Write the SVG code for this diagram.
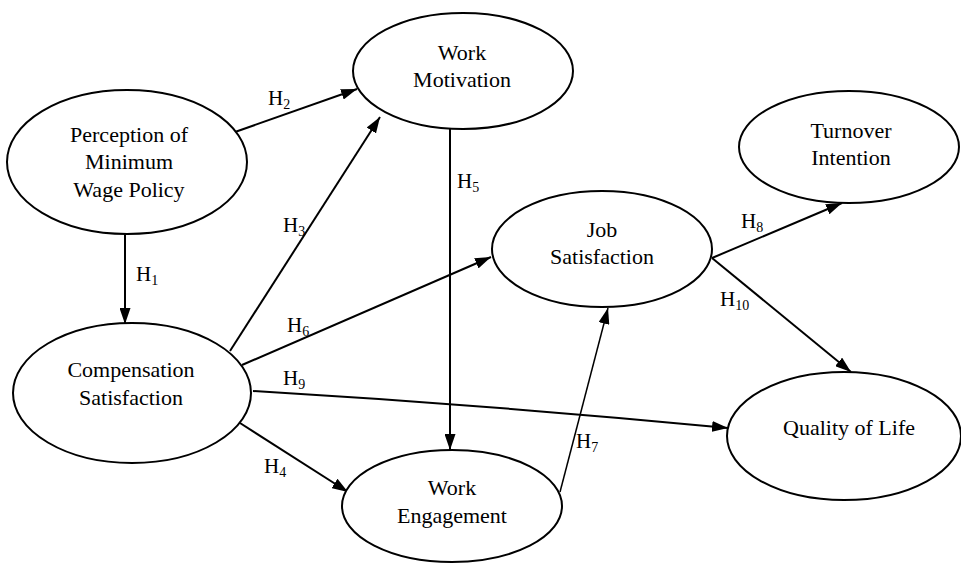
<svg xmlns="http://www.w3.org/2000/svg" width="961" height="564" viewBox="0 0 961 564">
<defs>
<marker id="ah" markerUnits="userSpaceOnUse" markerWidth="16" markerHeight="11" refX="16" refY="5.5" orient="auto">
<path d="M0,0 L16,5.5 L0,11 z" fill="#000"/>
</marker>
<style>
.n ellipse{fill:#fff;stroke:#000;stroke-width:2}
.n text{font-family:"Liberation Serif","Times New Roman",serif;font-size:22px;fill:#000;text-anchor:middle}
.c line,.c path{stroke:#000;stroke-width:2;fill:none;marker-end:url(#ah)}
.lb{font-family:"Liberation Serif","Times New Roman",serif;font-size:21px;fill:#000}
.lb tspan{font-size:14px}
</style>
</defs>
<rect width="961" height="564" fill="#fff"/>
<g class="c" id="connectors">
<line x1="125" y1="233" x2="125" y2="324"/>
<line x1="235" y1="132" x2="357" y2="89"/>
<line x1="230" y1="351" x2="380" y2="117"/>
<line x1="240" y1="423" x2="348" y2="492"/>
<line x1="450" y1="129" x2="450" y2="450"/>
<line x1="242" y1="365" x2="491" y2="257"/>
<line x1="560" y1="492" x2="608" y2="308" style="stroke-width:1.5"/>
<line x1="712" y1="258" x2="842" y2="203"/>
<path d="M253,391 Q490,405 728,428"/>
<line x1="712" y1="258" x2="851" y2="372"/>
</g>
<g id="labels">
<text class="lb" x="136" y="281">H<tspan dy="4">1</tspan></text>
<text class="lb" x="268" y="105">H<tspan dy="4">2</tspan></text>
<text class="lb" x="283" y="232">H<tspan dy="4">3</tspan></text>
<text class="lb" x="264" y="473">H<tspan dy="4">4</tspan></text>
<text class="lb" x="457" y="188">H<tspan dy="4">5</tspan></text>
<text class="lb" x="287" y="332">H<tspan dy="4">6</tspan></text>
<text class="lb" x="576" y="448">H<tspan dy="4">7</tspan></text>
<text class="lb" x="741" y="228">H<tspan dy="4">8</tspan></text>
<text class="lb" x="283" y="385">H<tspan dy="4">9</tspan></text>
<text class="lb" x="720" y="306">H<tspan dy="4">10</tspan></text>
</g>
<g class="n" id="perception">
<ellipse cx="127" cy="162" rx="120" ry="72"/>
<text x="129" y="142">Perception of</text>
<text x="129" y="169">Minimum</text>
<text x="129" y="197">Wage Policy</text>
</g>
<g class="n" id="motivation">
<ellipse cx="463" cy="71" rx="110" ry="58"/>
<text x="462" y="60">Work</text>
<text x="462" y="87">Motivation</text>
</g>
<g class="n" id="turnover">
<ellipse cx="849" cy="147" rx="110" ry="56"/>
<text x="851" y="138">Turnover</text>
<text x="851" y="165">Intention</text>
</g>
<g class="n" id="job">
<ellipse cx="602" cy="249" rx="110" ry="58"/>
<text x="602" y="237">Job</text>
<text x="602" y="264">Satisfaction</text>
</g>
<g class="n" id="compensation">
<ellipse cx="132" cy="393" rx="119" ry="70"/>
<text x="131" y="377">Compensation</text>
<text x="131" y="405">Satisfaction</text>
</g>
<g class="n" id="quality">
<ellipse cx="844" cy="436" rx="117" ry="64"/>
<text x="849" y="435">Quality of Life</text>
</g>
<g class="n" id="engagement">
<ellipse cx="452" cy="506" rx="110" ry="56"/>
<text x="452" y="495">Work</text>
<text x="452" y="523">Engagement</text>
</g>
</svg>
